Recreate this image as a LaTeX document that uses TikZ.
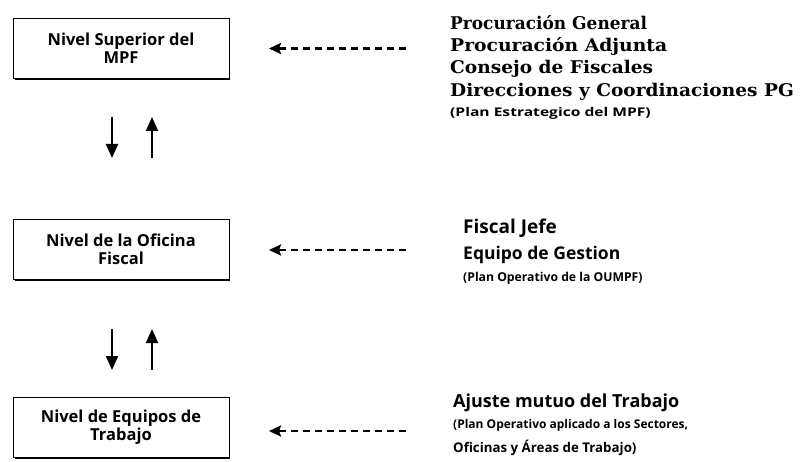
\documentclass[tikz,border=0pt]{standalone}
\usepackage{fontspec}
\setmainfont{DejaVu Serif}
\setsansfont{Open Sans}
\usetikzlibrary{arrows.meta}
\newcommand{\hs}[2]{\scalebox{#1}[1]{#2}}
\tikzset{
  levelbox/.style={draw=black, line width=0.9pt, minimum width=216pt, minimum height=60pt, align=center, inner sep=0pt, font=\sffamily\bfseries\fontsize{16.5}{18}\selectfont, fill=white},
  flow/.style={line width=2pt, -{Triangle[width=12pt,length=14pt]}},
  feed/.style={line width=2.3pt, dash pattern=on 7.5pt off 4.5pt, -{Stealth[width=11pt,length=12pt,inset=2pt]}},
  sertitle/.style={anchor=west, inner sep=0pt, font=\rmfamily\bfseries\fontsize{17.5}{21}\selectfont},
  rtext/.style={anchor=west, inner sep=0pt},
}
\begin{document}
\begin{tikzpicture}[x=1pt,y=-1pt]
\useasboundingbox (0,0) rectangle (800,462);
% shadows
\fill[black] (14.5,19.5) rectangle (230.3,80.3);
\fill[black] (14.5,219.5) rectangle (230.3,281.3);
\fill[black] (14.5,398.5) rectangle (230.3,459.3);
\node[levelbox] (b1) at (121,48.5) {Nivel Superior del\\MPF};
\node[levelbox] (b2) at (121,249) {Nivel de la Oficina\\Fiscal};
\node[levelbox] (b3) at (121,427.5) {Nivel de Equipos de\\Trabajo};

% vertical arrows
\coordinate (d1s) at (112,117); \coordinate (d1e) at (112,158);
\coordinate (u1s) at (152,158); \coordinate (u1e) at (152,117);
\coordinate (d2s) at (112,329); \coordinate (d2e) at (112,370);
\coordinate (u2s) at (152,370); \coordinate (u2e) at (152,329);
\draw[flow] (d1s) -- (d1e);
\draw[flow] (u1s) -- (u1e);
\draw[flow] (d2s) -- (d2e);
\draw[flow] (u2s) -- (u2e);

% dashed arrows
\coordinate (f1s) at (406,48.5); \coordinate (f1e) at (269,48.5);
\coordinate (f2s) at (406,250); \coordinate (f2e) at (269,250);
\coordinate (f3s) at (406,431); \coordinate (f3e) at (269,431);
\draw[feed] (f1s) -- (f1e);
\draw[feed] (f2s) -- (f2e);
\draw[feed] (f3s) -- (f3e);

% right texts
\node[sertitle] (t1) at (450,23) {\hs{0.97}{Procuración General}};
\node[sertitle] (t2) at (450,46) {\hs{1.07}{Procuración Adjunta}};
\node[sertitle] (t3) at (450,69) {\hs{1.06}{Consejo de Fiscales}};
\node[sertitle] (t4) at (450,92) {\hs{1.06}{Direcciones y Coordinaciones PG}};
\node[rtext, font=\sffamily\bfseries\fontsize{12}{14}\selectfont] (t5) at (450,113) {\hs{1.3}{(Plan Estrategico del MPF)}};

\node[rtext, font=\sffamily\bfseries\fontsize{19}{22}\selectfont] (m1) at (463,228) {Fiscal Jefe};
\node[rtext, font=\sffamily\bfseries\fontsize{17.5}{20}\selectfont] (m2) at (463,255) {Equipo de Gestion};
\node[rtext, font=\sffamily\bfseries\fontsize{12.2}{14}\selectfont] (m3) at (463,278) {(Plan Operativo de la OUMPF)};

\node[rtext, font=\sffamily\bfseries\fontsize{18}{21}\selectfont] (l1) at (453,403) {Ajuste mutuo del Trabajo};
\node[rtext, font=\sffamily\bfseries\fontsize{12}{14}\selectfont] (l2) at (453,425) {(Plan Operativo aplicado a los Sectores,};
\node[rtext, font=\sffamily\bfseries\fontsize{13.3}{15}\selectfont] (l3) at (453,448) {Oficinas y Áreas de Trabajo)};
\end{tikzpicture}
\end{document}
